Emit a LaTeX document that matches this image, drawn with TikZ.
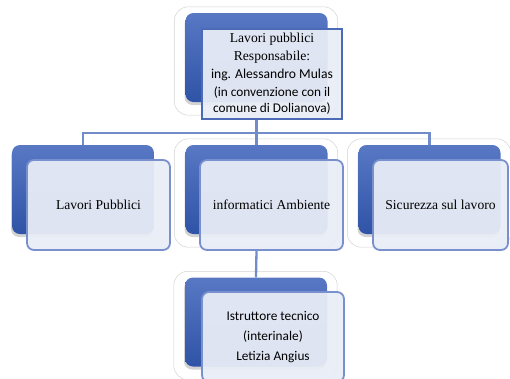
\documentclass[tikz,border=0pt]{standalone}
\usepackage{fontspec}
\setmainfont{Liberation Serif}
\newfontfamily\calibri{Carlito}
\usetikzlibrary{shadows,backgrounds,positioning}

\definecolor{boxtop}{HTML}{5878C4}
\definecolor{boxbot}{HTML}{2F53A6}
\definecolor{boxfill}{HTML}{E9EDF6}
\definecolor{boxline}{HTML}{7890CD}
\definecolor{headline}{HTML}{4B6BB6}
\definecolor{linkblue}{HTML}{728CCB}

\tikzset{
  backbox/.style={rounded corners=8pt, top color=boxtop, bottom color=boxbot,
    minimum width=142pt, minimum height=89pt, inner sep=0pt,
    drop shadow={shadow xshift=-1pt, shadow yshift=-3pt, opacity=0.35}},
  frontbox/.style={rounded corners=7pt, fill=boxfill, fill opacity=0.94, text opacity=1,
    draw=boxline, line width=1.8pt, minimum width=142pt, minimum height=90pt,
    inner sep=0pt, align=center, font=\fontsize{13.6}{18}\selectfont},
  headbox/.style={frontbox, rounded corners=0pt, draw=headline, line width=1.9pt},
  halo/.style={draw=gray!35, line width=0.5pt, rounded corners=14pt},
  link/.style={draw=linkblue, line width=2.3pt},
}

\begin{document}
\begin{tikzpicture}[x=1pt,y=-1pt]
\clip (0,0) rectangle (510,378);
\useasboundingbox (0,0) rectangle (510,378);

% head
\node[backbox] (headback) at (256.5,57.5) {};
\node[headbox, minimum width=140pt] (head) at (272,74) {%
  Lavori pubblici\\ Responsabile:\\
  {\calibri ing. Alessandro Mulas}\\
  {\calibri\fontsize{13.3}{16}\selectfont (in convenzione con il}\\[-2pt]
  {\calibri\fontsize{13.3}{16}\selectfont comune di Dolianova)}};

% second row
\node[backbox] (lavback) at (83,189.5) {};
\node[frontbox, minimum width=143pt] (lav) at (98.5,205) {Lavori Pubblici};
\node[backbox] (infback) at (256.5,189.5) {};
\node[frontbox, minimum width=143pt] (inf) at (271.5,205) {informatici Ambiente};
\node[backbox] (sicback) at (429.5,189.5) {};
\node[frontbox, minimum width=135pt] (sic) at (440.5,205) {Sicurezza sul lavoro};

% bottom
\node[backbox] (istback) at (256,322) {};
\node[frontbox, font=\calibri\fontsize{13.3}{20}\selectfont] (ist) at (273,337)
  {Istruttore tecnico\\ (interinale)\\ Letizia Angius};

\coordinate (bus) at (256.5,133);

\begin{scope}[on background layer]
  \foreach \b in {headback,infback,sicback,istback}
    \draw[halo] ([xshift=-11pt,yshift=6pt]\b.north west) rectangle ([xshift=10pt,yshift=-13pt]\b.south east);
  \draw[link] (headback |- head.south) -- (headback |- bus);
  \draw[link] (lavback.north) -- (lavback |- bus) -- (sicback |- bus) -- (sicback.north);
  \draw[link] (infback |- bus) -- (infback.north);
  \draw[link] (infback |- inf.south) -- (istback.north);
\end{scope}
\end{tikzpicture}
\end{document}
